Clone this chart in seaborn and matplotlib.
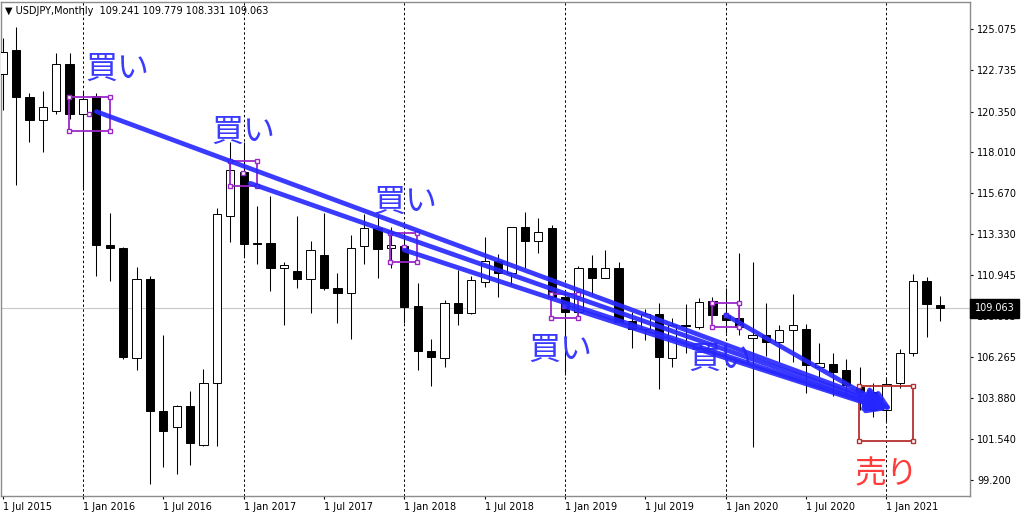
import matplotlib
matplotlib.use("Agg")
import matplotlib.pyplot as plt
import matplotlib.transforms as mtransforms
from matplotlib.patches import Rectangle
import numpy as np
import pandas as pd
import seaborn as sns

sns.set_theme(style="white")
plt.rcParams["font.family"] = ["DejaVu Sans", "Noto Sans CJK JP"]

# ***** monthly USDJPY candles, Jul 2015 .. May 2021 ***** #
months = pd.date_range("2015-07-01", "2021-05-01", freq="MS")
opens = [122.49, 123.88, 121.20, 119.87, 120.40, 123.08, 120.21, 121.26, 112.69, 112.54,
         106.19, 110.72, 103.18, 102.24, 103.43, 101.19, 104.75, 114.37, 116.86, 112.76,
         112.79, 111.35, 111.22, 110.74, 112.12, 110.24, 109.92, 112.63, 113.65, 112.50,
         112.63, 109.19, 106.62, 106.19, 109.34, 108.77, 110.58, 111.77, 111.07, 113.74,
         112.92, 113.65, 109.69, 108.83, 111.39, 110.82, 111.39, 108.33, 107.87, 108.71,
         106.20, 108.08, 108.00, 109.48, 108.67, 108.48, 107.35, 107.52, 107.10, 107.80,
         107.87, 105.70, 105.86, 105.51, 104.56, 104.27, 103.22, 104.75, 106.47, 110.64,
         109.241]
highs = [124.56, 125.22, 121.40, 121.53, 123.73, 123.70, 121.45, 121.43, 114.54, 112.60,
         111.44, 110.90, 107.51, 103.49, 104.33, 105.55, 114.80, 118.62, 118.60, 114.93,
         115.52, 111.73, 114.36, 112.92, 114.51, 111.07, 113.26, 114.47, 114.40, 113.74,
         113.36, 110.49, 107.29, 109.53, 111.26, 110.90, 113.17, 112.16, 113.74, 114.57,
         114.22, 113.84, 110.00, 111.50, 112.12, 112.40, 111.70, 108.86, 109.00, 109.34,
         108.48, 109.29, 109.66, 109.70, 110.24, 112.21, 111.73, 109.38, 108.10, 109.88,
         108.16, 107.05, 106.51, 106.13, 105.70, 104.75, 105.13, 106.72, 111.01, 110.87,
         109.779]
lows = [120.44, 116.13, 118.59, 118.05, 120.20, 119.95, 115.85, 110.93, 110.62, 106.15,
        105.51, 98.95, 99.96, 99.53, 100.04, 101.17, 101.17, 112.84, 112.02, 111.58,
        110.07, 108.10, 110.20, 108.77, 110.10, 108.23, 107.29, 111.60, 110.78, 111.35,
        108.20, 105.51, 104.61, 105.67, 108.10, 108.70, 110.26, 109.72, 110.39, 111.39,
        112.25, 109.60, 105.20, 108.60, 109.82, 110.78, 108.28, 106.80, 107.24, 104.41,
        105.70, 106.47, 107.87, 108.43, 107.65, 107.52, 101.11, 106.34, 105.96, 105.99,
        104.18, 105.10, 104.02, 104.05, 103.20, 102.83, 102.60, 104.46, 106.32, 107.43,
        108.331]
closes = [123.79, 121.20, 119.87, 120.59, 123.08, 120.21, 121.07, 112.69, 112.54, 106.24,
          110.72, 103.16, 102.01, 103.45, 101.31, 104.75, 114.47, 117.00, 112.75, 112.74,
          111.35, 111.54, 110.74, 112.40, 110.20, 109.92, 112.50, 113.65, 112.46, 112.67,
          109.15, 106.61, 106.24, 109.34, 108.77, 110.68, 111.77, 111.07, 113.71, 112.92,
          113.45, 109.72, 108.83, 111.39, 110.78, 111.38, 108.29, 107.87, 108.71, 106.24,
          108.10, 108.02, 109.40, 108.67, 108.38, 108.00, 107.52, 107.10, 107.81, 108.08,
          105.80, 105.90, 105.42, 104.65, 104.27, 103.22, 104.71, 106.47, 110.64, 109.30,
          109.063]

last_price = 109.063
y_ticks = [99.200, 101.540, 103.880, 106.265, 108.605, 110.945,
           113.330, 115.670, 118.010, 120.350, 122.735, 125.075]

# ***** hand drawn marks (month index, price) ***** #
buy_boxes = [(4.95, 8.00, 121.19, 119.23),
             (16.98, 18.97, 117.53, 116.09),
             (28.93, 30.97, 113.36, 111.73),
             (40.95, 42.99, 109.86, 108.52),
             (52.95, 54.99, 109.34, 108.00)]
buy_marks = [(6.47, 120.23), (17.97, 116.84), (30.00, 112.56), (41.94, 109.19), (54.00, 108.67)]
arrow_starts = [(7.00, 120.35), (18.50, 116.23), (30.00, 112.40), (41.94, 109.19), (54.00, 108.67)]
arrow_ends = [(65.97, 103.56), (65.97, 103.45), (65.90, 103.33), (66.05, 103.22), (66.42, 103.22)]
buy_labels = [(8.54, 122.79), (17.95, 119.18), (30.05, 115.16), (41.62, 106.66), (53.57, 106.15)]
sell_box = (63.95, 68.00, 104.60, 101.44)
sell_label = (66.04, 99.55)

df = pd.DataFrame({"month": months, "open": opens, "high": highs, "low": lows, "close": closes})
df["pos"] = np.arange(len(df))
df["up"] = df["close"] >= df["open"]

fig = plt.figure(figsize=(10.24, 5.16), dpi=100)
ax = fig.add_axes([1 / 1024, 20 / 516, 969 / 1024, 494 / 516])

# price line + year separators
ax.axhline(last_price, color="#c8c8c8", lw=0.8, zorder=1)
for p in df.loc[df["month"].dt.month == 1, "pos"]:
    ax.axvline(p, color="black", lw=0.7, ls=(0, (2.5, 2.5)), zorder=1)

# candles
ax.vlines(df["pos"], df["low"], df["high"], color="black", lw=0.75, zorder=2)
body_lo = df[["open", "close"]].min(axis=1)
body_h = (df["close"] - df["open"]).abs().clip(lower=0.05)
ax.bar(df["pos"], body_h, bottom=body_lo, width=0.62,
       color=np.where(df["up"], "white", "black"), edgecolor="black", linewidth=0.7, zorder=3)

# buy boxes
purple = "#9b27c9"
for (x0, x1, top, bot), (mx, my) in zip(buy_boxes, buy_marks):
    ax.add_patch(Rectangle((x0, bot), x1 - x0, top - bot, fill=False, ec=purple, lw=1.3, zorder=4))
    ax.plot([x0, x1, x0, x1, mx], [top, top, bot, bot, my], ls="none", marker="s", ms=3.5,
            mfc="white", mec=purple, mew=1.0, zorder=5)

# sell box
red = "#b53030"
x0, x1, top, bot = sell_box
ax.add_patch(Rectangle((x0, bot), x1 - x0, top - bot, fill=False, ec=red, lw=1.3, zorder=4))
ax.plot([x0, x1, x0, x1], [top, top, bot, bot], ls="none", marker="s", ms=3.5,
        mfc="white", mec=red, mew=1.0, zorder=5)

# labels
for x, y in buy_labels:
    ax.text(x, y, "買い", color="#3b3bff", fontsize=23, ha="center", va="center",
            family="Noto Sans CJK JP", zorder=6)
ax.text(sell_label[0], sell_label[1], "売り", color="#ff3c3c", fontsize=23, ha="center",
        va="center", family="Noto Sans CJK JP", zorder=6)

# arrows
for (sx, sy), (ex, ey) in zip(arrow_starts, arrow_ends):
    ax.annotate("", xy=(ex, ey), xytext=(sx, sy), zorder=7,
                arrowprops=dict(arrowstyle="-|>,head_length=0.9,head_width=0.45",
                                color="#2626ff", alpha=0.9, lw=3.4,
                                shrinkA=0, shrinkB=0, mutation_scale=12))

# axes look
ax.set_xlim(-0.12, 72.24)
ax.set_ylim(98.28, 126.64)
for s in ax.spines.values():
    s.set_color("#8c8c8c")
    s.set_linewidth(1.0)

ax.yaxis.tick_right()
ax.set_yticks(y_ticks)
ax.set_yticklabels([f"{v:.3f}" for v in y_ticks])
ax.tick_params(axis="y", direction="out", length=2.5, width=0.8, pad=2.5,
               labelsize=7, colors="black", right=True, left=False)

tick_rows = df[df["month"].dt.month.isin([1, 7])]
ax.set_xticks(tick_rows["pos"])
ax.set_xticklabels([f"1 {m:%b %Y}" for m in tick_rows["month"]])
ax.tick_params(axis="x", direction="out", length=2.5, width=0.8, pad=2,
               labelsize=7, colors="black", bottom=True)
for lab in ax.get_xticklabels():
    lab.set_horizontalalignment("left")

# current price tag
trans = mtransforms.blended_transform_factory(ax.transAxes, ax.transData)
ax.text(1.005, last_price, "109.063", transform=trans, ha="left", va="center",
        color="white", fontsize=7, clip_on=False, zorder=8,
        bbox=dict(boxstyle="square,pad=0.45", fc="black", ec="black"))

# header
ax.text(0.004, 0.982, "▼ USDJPY,Monthly  109.241 109.779 108.331 109.063",
        transform=ax.transAxes, ha="left", va="center", fontsize=7, color="black")

fig.savefig("out.png", dpi=100)
